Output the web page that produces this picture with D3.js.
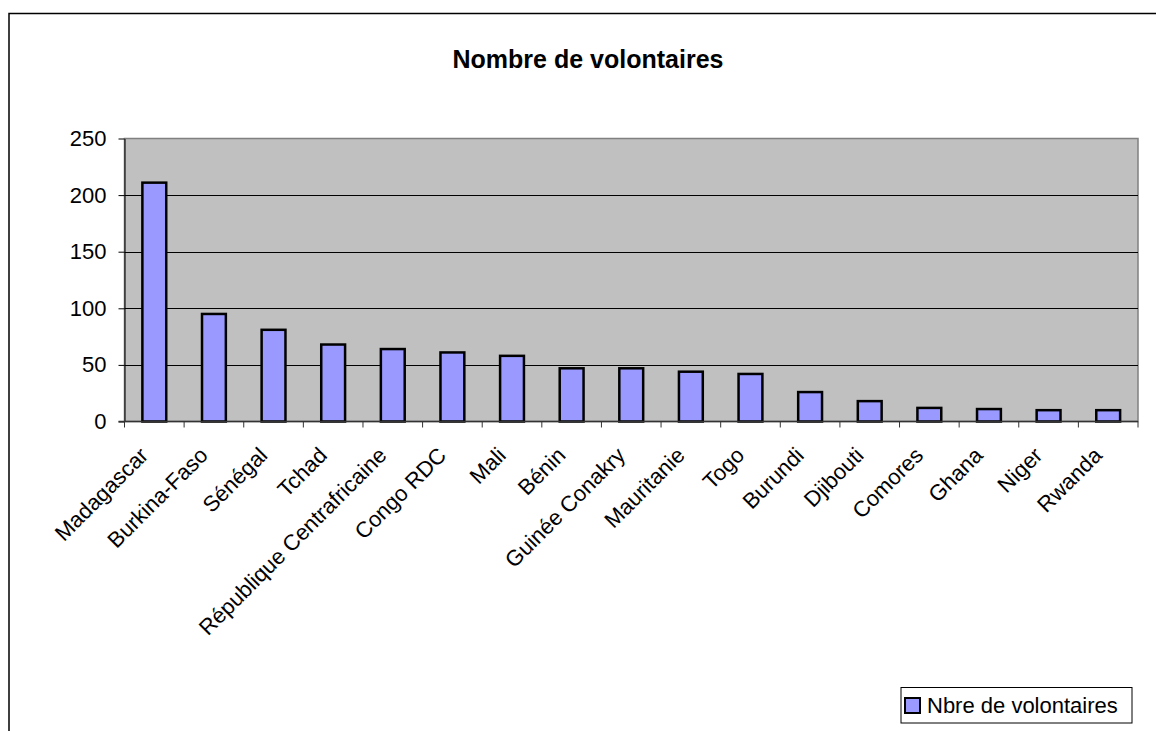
<!DOCTYPE html>
<html>
<head>
<meta charset="utf-8">
<script src="https://cdn.jsdelivr.net/npm/d3@7"></script>
<style>
    body { margin: 0; background: #fff; }
    svg { display: block; font-family: "Liberation Sans", Arial, sans-serif; }
</style>
</head>
<body>
<div id="chart"></div>
<script>
// data
const countries = ["Madagascar", "Burkina-Faso", "Sénégal", "Tchad", "République Centrafricaine",
    "Congo RDC", "Mali", "Bénin", "Guinée Conakry", "Mauritanie", "Togo", "Burundi",
    "Djibouti", "Comores", "Ghana", "Niger", "Rwanda"];
const volontaires = [211, 95, 81, 68, 64, 61, 58, 47, 47, 44, 42, 26, 18, 12, 11, 10, 10];
const yTicks = [0, 50, 100, 150, 200, 250];
const chartTitle = "Nombre de volontaires";
const seriesName = "Nbre de volontaires";

const width = 1156;
const height = 731;
const plot = { left: 124.5, top: 138.5, right: 1138, bottom: 421.5 };

const svg = d3.select("#chart").append("svg")
    .attr("width", width)
    .attr("height", height);

// outer chart frame (right and bottom edges fall outside the picture)
svg.append("rect")
    .attr("x", 9).attr("y", 13.5)
    .attr("width", 1180).attr("height", 760)
    .attr("fill", "#fff")
    .attr("stroke", "#000")
    .attr("stroke-width", 1.5);

svg.append("text")
    .attr("x", 588).attr("y", 68)
    .attr("text-anchor", "middle")
    .attr("font-size", 25)
    .attr("font-weight", "bold")
    .text(chartTitle);

const x = d3.scaleBand()
    .domain(countries)
    .range([plot.left, plot.right])
    .paddingInner(0.6)
    .paddingOuter(0.3);

const y = d3.scaleLinear()
    .domain([0, 250])
    .range([plot.bottom, plot.top]);

// plot area
svg.append("rect")
    .attr("x", plot.left).attr("y", plot.top)
    .attr("width", plot.right - plot.left)
    .attr("height", plot.bottom - plot.top)
    .attr("fill", "#c0c0c0")
    .attr("stroke", "#808080")
    .attr("stroke-width", 1.5);

// gridlines
svg.append("g")
    .selectAll("line")
    .data(yTicks.filter(d => d > 0 && d < 250))
    .enter()
    .append("line")
    .attr("x1", plot.left).attr("x2", plot.right)
    .attr("y1", d => Math.round(y(d)) + 0.5)
    .attr("y2", d => Math.round(y(d)) + 0.5)
    .attr("stroke", "#000")
    .attr("stroke-width", 1);

// y axis
const yAxis = svg.append("g")
    .attr("transform", `translate(${plot.left},0)`)
    .call(d3.axisLeft(y).tickValues(yTicks).tickSize(6).tickPadding(12).tickSizeOuter(0));
yAxis.select(".domain").attr("stroke", "#000");
yAxis.selectAll(".tick line").attr("stroke", "#000");
yAxis.selectAll("text")
    .attr("font-size", 22)
    .attr("font-family", "Liberation Sans, Arial, sans-serif")
    .attr("fill", "#000");

// x axis: ticks between categories
const boundaries = d3.range(countries.length + 1).map(i => plot.left + i * (plot.right - plot.left) / countries.length);
svg.append("g")
    .selectAll("line")
    .data(boundaries)
    .enter()
    .append("line")
    .attr("x1", d => d).attr("x2", d => d)
    .attr("y1", plot.bottom).attr("y2", plot.bottom + 6)
    .attr("stroke", "#333")
    .attr("stroke-width", 1);

// bars
svg.append("g")
    .selectAll("rect")
    .data(countries)
    .enter()
    .append("rect")
    .attr("x", d => x(d))
    .attr("y", (d, i) => y(volontaires[i]))
    .attr("width", x.bandwidth())
    .attr("height", (d, i) => plot.bottom - y(volontaires[i]))
    .attr("fill", "#9999ff")
    .attr("stroke", "#000")
    .attr("stroke-width", 2.5);

svg.append("line")
    .attr("x1", plot.left - 6).attr("x2", plot.right)
    .attr("y1", plot.bottom).attr("y2", plot.bottom)
    .attr("stroke", "#333")
    .attr("stroke-width", 1.5);

// rotated category labels
svg.append("g")
    .selectAll("text")
    .data(countries)
    .enter()
    .append("text")
    .attr("transform", d => `translate(${x(d) + x.bandwidth() / 2 - 16},${plot.bottom + 24}) rotate(-45)`)
    .attr("text-anchor", "end")
    .attr("dy", "0.72em")
    .attr("font-size", 22)
    .text(d => d);

// legend
const legend = svg.append("g").attr("transform", "translate(901,687.5)");
legend.append("rect")
    .attr("width", 231).attr("height", 35.5)
    .attr("fill", "#fff")
    .attr("stroke", "#000")
    .attr("stroke-width", 1);
legend.append("rect")
    .attr("x", 4).attr("y", 10.5)
    .attr("width", 15).attr("height", 15)
    .attr("fill", "#9999ff")
    .attr("stroke", "#000")
    .attr("stroke-width", 2);
legend.append("text")
    .attr("x", 26).attr("y", 25)
    .attr("font-size", 22)
    .text(seriesName);
</script>
</body>
</html>
